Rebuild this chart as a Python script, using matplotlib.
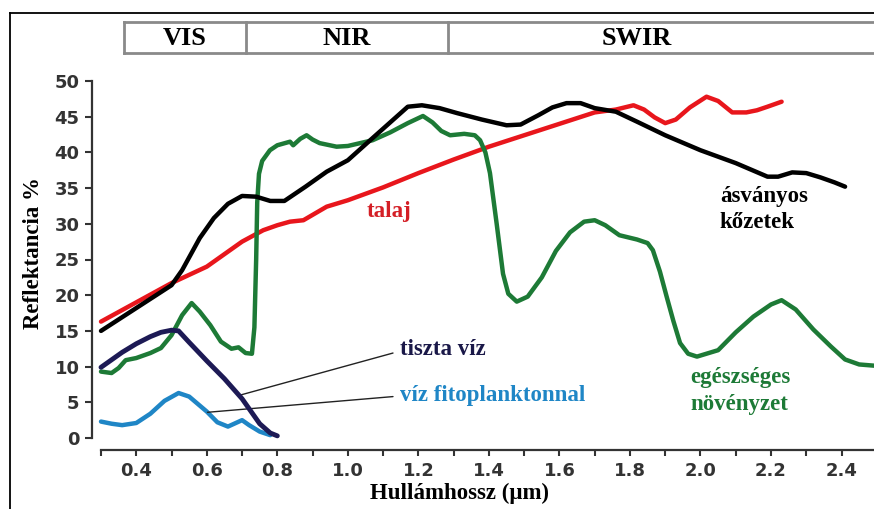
import numpy as np
import matplotlib.pyplot as plt
from matplotlib.lines import Line2D
from matplotlib.transforms import blended_transform_factory

# spectral reflectance curves (wavelength in um, reflectance in %)
rock_wl = [0.30, 0.40, 0.50, 0.53, 0.58, 0.62, 0.66, 0.70, 0.74, 0.78, 0.82, 0.88, 0.94,
           1.00, 1.07, 1.12, 1.17, 1.21, 1.26, 1.31, 1.38, 1.45, 1.49, 1.54, 1.58, 1.62,
           1.66, 1.70, 1.76, 1.82, 1.90, 2.00, 2.10, 2.19, 2.22, 2.26, 2.30, 2.34, 2.38, 2.41]
rock_r = [15.0, 18.2, 21.4, 23.5, 28.0, 30.8, 32.8, 33.9, 33.8, 33.2, 33.2, 35.2, 37.3,
          38.9, 42.0, 44.2, 46.4, 46.6, 46.2, 45.5, 44.6, 43.8, 43.9, 45.2, 46.3, 46.9,
          46.9, 46.2, 45.7, 44.3, 42.4, 40.3, 38.5, 36.6, 36.6, 37.2, 37.1, 36.5, 35.8, 35.2]

soil_wl = [0.30, 0.40, 0.50, 0.60, 0.70, 0.76, 0.80, 0.836, 0.874, 0.94, 1.00, 1.10, 1.20,
           1.30, 1.40, 1.50, 1.60, 1.70, 1.76, 1.81, 1.84, 1.87, 1.90, 1.93, 1.97, 2.017,
           2.05, 2.09, 2.13, 2.16, 2.19, 2.23]
soil_r = [16.3, 19.0, 21.7, 24.0, 27.5, 29.1, 29.8, 30.3, 30.5, 32.4, 33.3, 35.1, 37.1,
          39.0, 40.8, 42.4, 44.0, 45.6, 46.0, 46.6, 46.0, 44.9, 44.1, 44.6, 46.3, 47.8,
          47.2, 45.6, 45.6, 45.9, 46.4, 47.1]

veg_wl = [0.30, 0.33, 0.35, 0.37, 0.40, 0.44, 0.47, 0.50, 0.53, 0.557, 0.58, 0.61, 0.64,
          0.67, 0.69, 0.71, 0.728, 0.735, 0.740, 0.743, 0.748, 0.757, 0.779, 0.80, 0.836,
          0.845, 0.865, 0.883, 0.90, 0.92, 0.968, 1.00, 1.07, 1.12, 1.17, 1.213, 1.24,
          1.265, 1.29, 1.33, 1.36, 1.375, 1.39, 1.403, 1.422, 1.44, 1.455, 1.479, 1.51,
          1.55, 1.59, 1.63, 1.67, 1.70, 1.73, 1.77, 1.82, 1.85, 1.865, 1.885, 1.904, 1.923,
          1.942, 1.965, 1.99, 2.05, 2.10, 2.15, 2.20, 2.23, 2.27, 2.32, 2.37, 2.41, 2.45, 2.50]
veg_r = [9.3, 9.1, 9.8, 10.9, 11.2, 11.9, 12.6, 14.4, 17.2, 18.9, 17.7, 15.8, 13.5,
         12.5, 12.7, 11.9, 11.8, 15.5, 25.0, 33.0, 37.0, 38.8, 40.3, 41.0, 41.5,
         41.0, 41.9, 42.4, 41.8, 41.3, 40.8, 40.9, 41.7, 42.8, 44.1, 45.1, 44.2,
         43.0, 42.4, 42.6, 42.4, 41.7, 40.0, 37.1, 30.0, 23.0, 20.2, 19.1, 19.8,
         22.5, 26.2, 28.8, 30.3, 30.5, 29.8, 28.4, 27.8, 27.3, 26.3, 23.3, 19.8, 16.4,
         13.3, 11.8, 11.4, 12.3, 14.8, 17.0, 18.7, 19.3, 18.0, 15.2, 12.8, 11.0, 10.3, 10.1]

water_wl = [0.30, 0.36, 0.40, 0.44, 0.47, 0.50, 0.52, 0.55, 0.60, 0.65, 0.70, 0.75, 0.78, 0.80]
water_r = [9.9, 12.0, 13.2, 14.2, 14.8, 15.1, 15.0, 13.4, 10.8, 8.3, 5.5, 2.0, 0.7, 0.3]

plankton_wl = [0.30, 0.33, 0.36, 0.40, 0.44, 0.48, 0.52, 0.55, 0.60, 0.63, 0.66, 0.70,
               0.72, 0.75, 0.78]
plankton_r = [2.3, 2.0, 1.8, 2.1, 3.4, 5.2, 6.3, 5.8, 3.7, 2.2, 1.6, 2.5, 1.8, 0.9, 0.4]

band_names = ['VIS', 'NIR', 'SWIR']
band_edges = [0.365, 0.71, 1.285, 2.6]

x_ticks = [0.4, 0.6, 0.8, 1.0, 1.2, 1.4, 1.6, 1.8, 2.0, 2.2, 2.4]
x_minor = [0.3, 0.5, 0.7, 0.9, 1.1, 1.3, 1.5, 1.7, 1.9, 2.1, 2.3]
y_ticks = [0, 5, 10, 15, 20, 25, 30, 35, 40, 45, 50]

serif = 'Liberation Serif'
txt_size = 16.5

fig = plt.figure(figsize=(8.74, 5.09), dpi=100)
ax = fig.add_axes([101 / 874, 71 / 509, 773 / 874, 357 / 509])
ax.set_xlim(0.3, 2.492)
ax.set_ylim(0, 50)

lw = 3.2
ax.plot(soil_wl, soil_r, color='#e8161c', lw=lw, solid_capstyle='round', clip_on=False, zorder=3)
ax.plot(rock_wl, rock_r, color='black', lw=lw, solid_capstyle='round', clip_on=False, zorder=4)
ax.plot(veg_wl, veg_r, color='#1d7a36', lw=lw, solid_capstyle='round', clip_on=False, zorder=3)
ax.plot(plankton_wl, plankton_r, color='#1f86c6', lw=lw, solid_capstyle='round', clip_on=False, zorder=3)
ax.plot(water_wl, water_r, color='#1d1a55', lw=lw + 0.3, solid_capstyle='round', clip_on=False, zorder=4)

# labels
ax.text(1.053, 31.7, 'talaj', color='#d41f26', fontsize=txt_size, fontweight='bold',
        family=serif, va='center', ha='left')
ax.text(2.055, 32.0, 'ásványos\nkőzetek', color='black', fontsize=txt_size, fontweight='bold',
        family=serif, va='center', ha='left', linespacing=1.35)
ax.text(1.97, 6.6, 'egészséges\nnövényzet', color='#1d7a36', fontsize=txt_size, fontweight='bold',
        family=serif, va='center', ha='left', linespacing=1.35)
ax.text(1.148, 12.4, 'tiszta víz', color='#1a1848', fontsize=txt_size, fontweight='bold',
        family=serif, va='center', ha='left')
ax.text(1.148, 6.0, 'víz fitoplanktonnal', color='#1f86c6', fontsize=txt_size, fontweight='bold',
        family=serif, va='center', ha='left')

# leader lines
ax.annotate('', xy=(0.694, 6.0), xytext=(1.128, 11.9),
            arrowprops=dict(arrowstyle='-', color='#222222', lw=1.0, shrinkA=0, shrinkB=0))
ax.annotate('', xy=(0.602, 3.6), xytext=(1.128, 5.8),
            arrowprops=dict(arrowstyle='-', color='#222222', lw=1.0, shrinkA=0, shrinkB=0))

# axes styling
for s in ['top', 'right']:
    ax.spines[s].set_visible(False)
ax.spines['left'].set_position(('outward', 6.5))
ax.spines['bottom'].set_position(('outward', 8.6))
ax.spines['left'].set_bounds(0, 50)
ax.spines['bottom'].set_bounds(0.3, 2.6)
for s in ['left', 'bottom']:
    ax.spines[s].set_linewidth(1.6)
    ax.spines[s].set_color('#333333')

ax.set_xticks(x_ticks)
ax.set_xticklabels([f'{v:.1f}' for v in x_ticks])
ax.set_xticks(x_minor, minor=True)
ax.set_yticks(y_ticks)
ax.set_yticklabels([str(v) for v in y_ticks])
ax.tick_params(axis='x', which='both', direction='out', length=4, width=1.5,
               color='#333333', pad=5)
ax.tick_params(axis='y', direction='out', length=5, width=1.5, color='#333333', pad=4)
for lab in ax.get_xticklabels() + ax.get_yticklabels():
    lab.set_family('DejaVu Sans')
    lab.set_fontweight('bold')
    lab.set_fontsize(13)
    lab.set_color('#333333')

fig.text(34 / 874, 0.503, 'Reflektancia %', rotation=90, ha='center', va='center',
         fontsize=txt_size, fontweight='bold', family=serif)
fig.text(0.526, 0.031, 'Hullámhossz (μm)', ha='center', va='center',
         fontsize=txt_size, fontweight='bold', family=serif)

# outer frame
fig.add_artist(Line2D([10 / 874, 1.0], [0.9745, 0.9745], color='black', lw=1.3))
fig.add_artist(Line2D([10 / 874, 10 / 874], [0.0, 0.9745], color='black', lw=1.3))

# spectral band header
tr = blended_transform_factory(ax.transData, fig.transFigure)
top, bot = 0.9568, 0.8959
ax.add_line(Line2D([band_edges[0], band_edges[-1]], [top, top], transform=tr,
                   color='#8a8a8a', lw=2, clip_on=False))
ax.add_line(Line2D([band_edges[0], band_edges[-1]], [bot, bot], transform=tr,
                   color='#8a8a8a', lw=2, clip_on=False))
for e in band_edges[:-1]:
    ax.add_line(Line2D([e, e], [bot, top], transform=tr, color='#8a8a8a', lw=2, clip_on=False))
centers = [(band_edges[0] + band_edges[1]) / 2, (band_edges[1] + band_edges[2]) / 2, 1.82]
for name, c in zip(band_names, centers):
    ax.text(c, (top + bot) / 2 - 0.002, name, transform=tr, ha='center', va='center',
            fontsize=19, fontweight='bold', family=serif, clip_on=False)

fig.savefig('out.png', dpi=100, facecolor='white')
